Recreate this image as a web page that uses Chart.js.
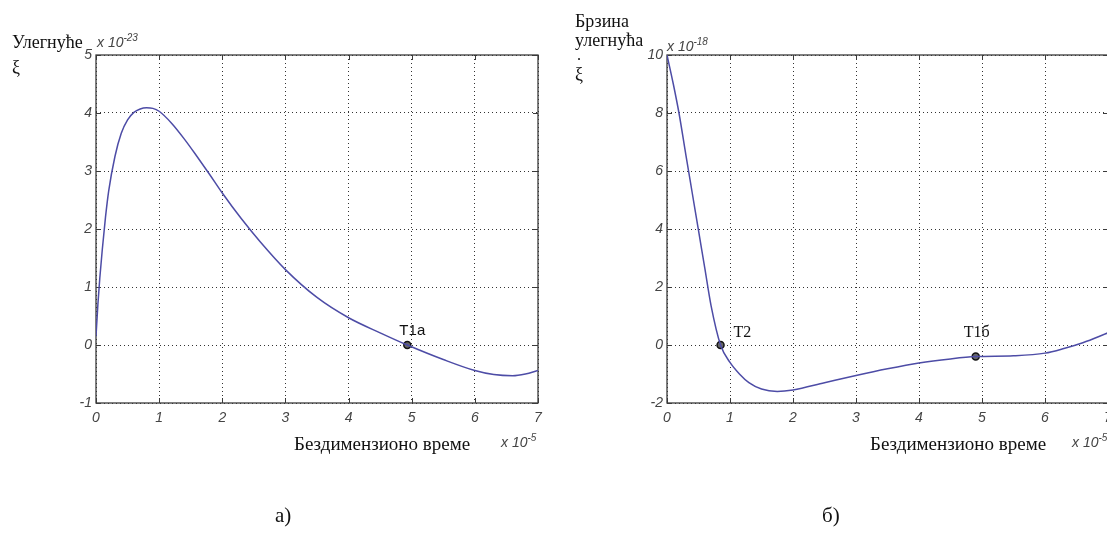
<!DOCTYPE html>
<html><head><meta charset="utf-8">
<script src="https://cdn.jsdelivr.net/npm/chart.js@4.4.0/dist/chart.umd.min.js"></script>
<style>
html,body{margin:0;padding:0;background:#fff;width:1107px;height:550px;overflow:hidden;position:relative;}
canvas{position:absolute;top:0;}
.t{position:absolute;white-space:nowrap;line-height:1;color:#111;}
.serif{font-family:"Liberation Serif","DejaVu Serif",serif;font-size:18px;}
.title{font-family:"Liberation Serif","DejaVu Serif",serif;font-size:19px;}
.sans{font-family:"Liberation Sans",Arial,sans-serif;font-style:italic;color:#444;font-size:14px;}
.sup{font-size:10px;position:relative;top:-6px;}
.big{font-family:"Liberation Serif","DejaVu Serif",serif;font-size:21px;}
</style></head><body>
<canvas id="c1" width="560" height="550" style="left:0"></canvas>
<canvas id="c2" width="560" height="550" style="left:560px"></canvas>

<div class="t serif" style="left:12px;top:33px">Улегнуће</div>
<div class="t serif" style="left:12px;top:58px">ξ</div>
<div class="t sans" style="left:97px;top:35px">x 10<span class="sup">-23</span></div>
<div class="t title" style="left:294px;top:434px">Бездимензионо време</div>
<div class="t sans" style="left:501px;top:435px">x 10<span class="sup">-5</span></div>

<div class="t serif" style="left:575px;top:12px">Брзина</div>
<div class="t serif" style="left:575px;top:31px">улегнућа</div>
<div class="t serif" style="left:576px;top:56px">˙</div>
<div class="t serif" style="left:575px;top:65px">ξ</div>
<div class="t sans" style="left:667px;top:39px">x 10<span class="sup">-18</span></div>
<div class="t title" style="left:870px;top:434px">Бездимензионо време</div>
<div class="t sans" style="left:1072px;top:435px">x 10<span class="sup">-5</span></div>

<div class="t big" style="left:275px;top:505px">а)</div>
<div class="t big" style="left:822px;top:505px">б)</div>

<script>
// ---------- data ----------
const xTickValues = [0, 1, 2, 3, 4, 5, 6, 7];

// (a) deflection  ξ  (x 10^-23) vs dimensionless time (x 10^-5)
const timeA = [0, 0.03, 0.06, 0.1, 0.15, 0.2, 0.3, 0.4, 0.5, 0.6, 0.7, 0.8, 0.9, 1.0, 1.2, 1.4, 1.6, 1.8, 2.0, 2.3, 2.6, 3.0, 3.5, 4.0, 4.5, 4.93, 5.5, 6.0, 6.3, 6.6, 6.8, 7.0];
const deflection = [0.15, 0.7, 1.15, 1.65, 2.2, 2.65, 3.25, 3.65, 3.88, 4.01, 4.07, 4.09, 4.08, 4.03, 3.82, 3.55, 3.25, 2.94, 2.62, 2.18, 1.78, 1.30, 0.82, 0.47, 0.21, 0.0, -0.25, -0.44, -0.51, -0.53, -0.5, -0.44];
const yTicksA = [-1, 0, 1, 2, 3, 4, 5];
const markerTimeA = [4.93];
const markerValA = [0];
const markerLabelA = ['T1a'];

// (б) deflection velocity  ξ'  (x 10^-18)
const timeB = [0, 0.1, 0.19, 0.3, 0.4, 0.5, 0.6, 0.7, 0.85, 1.0, 1.15, 1.3, 1.5, 1.75, 2.0, 2.5, 3.0, 3.5, 4.0, 4.5, 4.9, 5.5, 6.0, 6.3, 6.6, 7.0];
const velocity = [10, 9.0, 8.0, 6.55, 5.25, 3.95, 2.65, 1.35, 0.0, -0.6, -1.0, -1.3, -1.52, -1.6, -1.55, -1.3, -1.05, -0.82, -0.62, -0.48, -0.4, -0.37, -0.28, -0.12, 0.08, 0.42];
const yTicksB = [-2, 0, 2, 4, 6, 8, 10];
const markerTimeB = [0.85, 4.9];
const markerValB = [0, -0.4];
const markerLabelB = ['T2', 'T1б'];

// ---------- styles ----------
const labelStyleA = [{font: '15px "Liberation Sans", Arial, sans-serif', align: 'center', dx: 5, dy: -10}];
const labelStyleB = [
  {font: '16px "Liberation Serif", serif', align: 'left', dx: 13, dy: -8},
  {font: '16px "Liberation Serif", serif', align: 'center', dx: 1, dy: -20}
];

const boxPlugin = {
  id: 'boxPlugin',
  beforeDatasetsDraw(chart) {
    const {ctx, chartArea: a, scales: {x, y}} = chart;
    ctx.save();
    ctx.strokeStyle = '#3a3a3a';
    ctx.lineWidth = 1.3;
    ctx.strokeRect(a.left, a.top, a.width, a.height);
    ctx.lineWidth = 1;
    ctx.beginPath();
    x.ticks.forEach(t => {
      const p = Math.round(x.getPixelForValue(t.value)) + 0.5;
      ctx.moveTo(p, a.bottom); ctx.lineTo(p, a.bottom - 5);
      ctx.moveTo(p, a.top); ctx.lineTo(p, a.top + 5);
    });
    y.ticks.forEach(t => {
      const p = Math.round(y.getPixelForValue(t.value)) + 0.5;
      ctx.moveTo(a.left, p); ctx.lineTo(a.left + 5, p);
      ctx.moveTo(a.right, p); ctx.lineTo(a.right - 5, p);
    });
    ctx.stroke();
    ctx.restore();
  },
  afterDatasetsDraw(chart) {
    const {ctx, scales: {x, y}} = chart;
    chart.data.datasets.forEach(ds => {
      if (!ds.pointTexts) return;
      ds.data.forEach((pt, i) => {
        const st = ds.pointStyles[i];
        ctx.save();
        ctx.font = st.font;
        ctx.fillStyle = '#111';
        ctx.textAlign = st.align;
        ctx.textBaseline = 'alphabetic';
        ctx.fillText(ds.pointTexts[i], x.getPixelForValue(pt.x) + st.dx, y.getPixelForValue(pt.y) + st.dy);
        ctx.restore();
      });
    });
  }
};

function makeChart(id, xs, ys, mx, my, mlabels, mstyles, yTicks, yWidth, rightPad) {
  const tickFont = {family: '"Liberation Sans", Arial, sans-serif', size: 14, style: 'italic'};
  return new Chart(document.getElementById(id), {
    type: 'line',
    data: {
      datasets: [
        {
          data: xs.map((v, i) => ({x: v, y: ys[i]})),
          borderColor: '#4d4ca6',
          borderWidth: 1.5,
          pointRadius: 0,
          cubicInterpolationMode: 'monotone',
          fill: false
        },
        {
          data: mx.map((v, i) => ({x: v, y: my[i]})),
          showLine: false,
          pointRadius: 3.5,
          pointBorderWidth: 1.5,
          pointBorderColor: '#111',
          pointBackgroundColor: '#666',
          pointTexts: mlabels,
          pointStyles: mstyles
        }
      ]
    },
    options: {
      responsive: false,
      animation: false,
      devicePixelRatio: 1,
      layout: {padding: {top: 55, right: rightPad, left: 0, bottom: 0}},
      plugins: {legend: {display: false}, tooltip: {enabled: false}},
      scales: {
        x: {
          type: 'linear',
          min: xTickValues[0],
          max: xTickValues[xTickValues.length - 1],
          afterBuildTicks: s => { s.ticks = xTickValues.map(v => ({value: v})); },
          afterFit: s => { s.height = 147; },
          grid: {color: '#333', lineWidth: 1, drawTicks: false, borderDash: [1, 3]},
          border: {display: false, dash: [1, 3]},
          ticks: {padding: 7, color: '#444', font: tickFont, maxRotation: 0}
        },
        y: {
          type: 'linear',
          min: yTicks[0],
          max: yTicks[yTicks.length - 1],
          afterBuildTicks: s => { s.ticks = yTicks.map(v => ({value: v})); },
          afterFit: s => { s.width = yWidth; },
          grid: {color: '#333', lineWidth: 1, drawTicks: false, borderDash: [1, 3]},
          border: {display: false, dash: [1, 3]},
          ticks: {padding: 4, color: '#444', font: tickFont}
        }
      }
    },
    plugins: [boxPlugin]
  });
}

makeChart('c1', timeA, deflection, markerTimeA, markerValA, markerLabelA, labelStyleA, yTicksA, 96, 22);
makeChart('c2', timeB, velocity, markerTimeB, markerValB, markerLabelB, labelStyleB, yTicksB, 107, 12);
</script>
</body></html>
